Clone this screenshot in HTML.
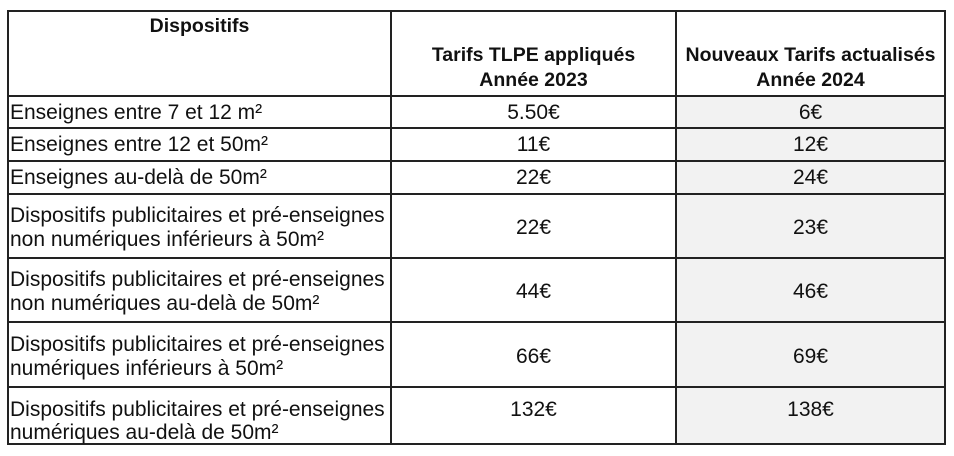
<!DOCTYPE html>
<html>
<head>
<meta charset="utf-8">
<style>
  html, body { margin:0; padding:0; background:#fff; }
  body { width:954px; height:456px; position:relative; overflow:hidden;
         font-family:"Liberation Sans", Arial, sans-serif; color:#111; }
  .h { position:absolute; height:2px; background:#222; }
  .v { position:absolute; width:2px; background:#222; }
  .fill { position:absolute; background:#f2f2f2; }
  .t { position:absolute; font-size:21px; line-height:24px; white-space:nowrap; }
  .b { font-weight:bold; font-size:19.5px; line-height:25px; text-align:center; }
  .c2 { left:391px; width:285px; text-align:center; }
  .c3 { left:676px; width:269px; text-align:center; }
  .c1 { left:10px; }
</style>
</head>
<body>
  <div class="fill" style="left:677px; top:96px; width:268px; height:348px;"></div>

  <div class="h" style="left:7px; width:939px; top:10px;"></div>
  <div class="h" style="left:7px; width:939px; top:95px;"></div>
  <div class="h" style="left:7px; width:939px; top:127px;"></div>
  <div class="h" style="left:7px; width:939px; top:160px;"></div>
  <div class="h" style="left:7px; width:939px; top:193px;"></div>
  <div class="h" style="left:7px; width:939px; top:257px;"></div>
  <div class="h" style="left:7px; width:939px; top:321px;"></div>
  <div class="h" style="left:7px; width:939px; top:386px;"></div>
  <div class="h" style="left:7px; width:939px; top:443px;"></div>

  <div class="v" style="left:7px; top:10px; height:435px;"></div>
  <div class="v" style="left:390px; top:10px; height:435px;"></div>
  <div class="v" style="left:675px; top:10px; height:435px;"></div>
  <div class="v" style="left:944px; top:10px; height:435px;"></div>

  <div class="t b" style="left:9px; width:381px; top:14px;">Dispositifs</div>
  <div class="t b c2" style="top:43px;">Tarifs TLPE appliqués<br>Année 2023</div>
  <div class="t b c3" style="top:43px;">Nouveaux Tarifs actualisés<br>Année 2024</div>

  <div class="t c1" style="top:101px;">Enseignes entre 7 et 12 m²</div>
  <div class="t c1" style="top:133px;">Enseignes entre 12 et 50m²</div>
  <div class="t c1" style="top:166px;">Enseignes au-delà de 50m²</div>
  <div class="t c1" style="top:204px;">Dispositifs publicitaires et pré-enseignes<br>non numériques inférieurs à 50m²</div>
  <div class="t c1" style="top:268px;">Dispositifs publicitaires et pré-enseignes<br>non numériques au-delà de 50m²</div>
  <div class="t c1" style="top:333px;">Dispositifs publicitaires et pré-enseignes<br>numériques inférieurs à 50m²</div>
  <div class="t c1" style="top:398px; line-height:23px;">Dispositifs publicitaires et pré-enseignes<br>numériques au-delà de 50m²</div>

  <div class="t c2" style="top:101px;">5.50€</div>
  <div class="t c2" style="top:133px;">11€</div>
  <div class="t c2" style="top:166px;">22€</div>
  <div class="t c2" style="top:216px;">22€</div>
  <div class="t c2" style="top:280px;">44€</div>
  <div class="t c2" style="top:345px;">66€</div>
  <div class="t c2" style="top:398px;">132€</div>

  <div class="t c3" style="top:101px;">6€</div>
  <div class="t c3" style="top:133px;">12€</div>
  <div class="t c3" style="top:166px;">24€</div>
  <div class="t c3" style="top:216px;">23€</div>
  <div class="t c3" style="top:280px;">46€</div>
  <div class="t c3" style="top:345px;">69€</div>
  <div class="t c3" style="top:398px;">138€</div>
</body>
</html>
